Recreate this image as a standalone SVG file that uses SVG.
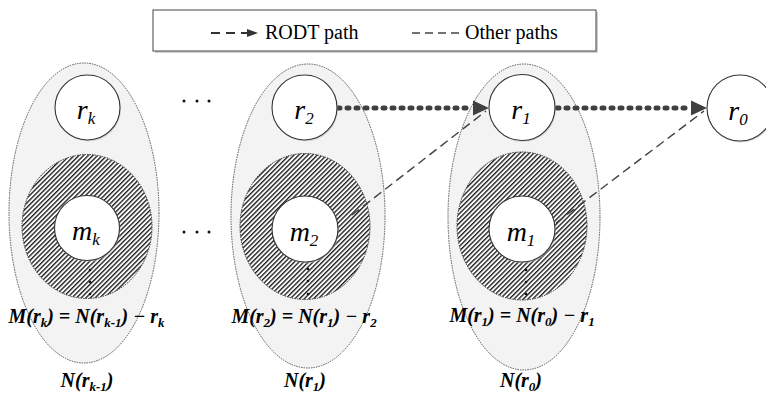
<svg xmlns="http://www.w3.org/2000/svg" width="766" height="396" viewBox="0 0 766 396">
<rect width="766" height="396" fill="#fff"/>
<defs>
<pattern id="hp" patternUnits="userSpaceOnUse" width="3.3" height="3.3" patternTransform="rotate(45)">
<rect width="3.3" height="3.3" fill="#fff"/>
<line x1="0.7" y1="0" x2="0.7" y2="3.3" stroke="#222" stroke-width="1.4"/>
</pattern>
</defs>

<g id="legend">
<rect x="155" y="12" width="443" height="41" fill="#d0d0d0"/>
<rect x="153" y="10" width="443" height="41" fill="#fff" stroke="#444" stroke-width="1"/>
<line x1="211" y1="33" x2="247" y2="33" stroke="#333" stroke-width="2" stroke-dasharray="9 6"/>
<polygon points="247,29 258,33 247,37" fill="#333"/>
<text x="265" y="39" font-family="Liberation Serif" font-size="20">RODT path</text>
<line x1="412" y1="33" x2="462" y2="33" stroke="#444" stroke-width="1.4" stroke-dasharray="8 5"/>
<text x="465" y="39" font-family="Liberation Serif" font-size="20">Other paths</text>
</g>

<g id="sets" fill="#f3f3f3" stroke="#555" stroke-width="1" stroke-dasharray="1.5 1">
<ellipse id="set-N-rk-1" cx="84" cy="213" rx="75" ry="150"/>
<ellipse id="set-N-r1" cx="308" cy="216" rx="77" ry="152"/>
<ellipse id="set-N-r0" cx="524" cy="217" rx="76" ry="153"/>
</g>
<g id="hatched" fill="url(#hp)" stroke="#333" stroke-width="1" stroke-dasharray="1.5 1">
<ellipse id="set-M-rk" cx="87" cy="226.5" rx="65" ry="72"/>
<ellipse id="set-M-r2" cx="305" cy="226.5" rx="65" ry="73"/>
<ellipse id="set-M-r1" cx="522" cy="226" rx="65" ry="74"/>
</g>

<g id="labels">
<text x="87" y="387" font-family="Liberation Serif" font-style="italic" font-weight="bold" font-size="20" text-anchor="middle">N(r<tspan font-size="13" dy="4">k-1</tspan><tspan dy="-4">)</tspan></text>
<text x="305" y="387" font-family="Liberation Serif" font-style="italic" font-weight="bold" font-size="20" text-anchor="middle">N(r<tspan font-size="13" dy="4">1</tspan><tspan dy="-4">)</tspan></text>
<text x="521" y="387" font-family="Liberation Serif" font-style="italic" font-weight="bold" font-size="20" text-anchor="middle">N(r<tspan font-size="13" dy="4">0</tspan><tspan dy="-4">)</tspan></text>
<text x="86.5" y="323" font-family="Liberation Serif" font-style="italic" font-weight="bold" font-size="20" text-anchor="middle">M(r<tspan font-size="13" dy="4">k</tspan><tspan dy="-4">) = N(r</tspan><tspan font-size="13" dy="4">k-1</tspan><tspan dy="-4">)  − r</tspan><tspan font-size="13" dy="4">k</tspan></text>
<text x="304" y="323" font-family="Liberation Serif" font-style="italic" font-weight="bold" font-size="20" text-anchor="middle">M(r<tspan font-size="13" dy="4">2</tspan><tspan dy="-4">) = N(r</tspan><tspan font-size="13" dy="4">1</tspan><tspan dy="-4">)  − r</tspan><tspan font-size="13" dy="4">2</tspan></text>
<text x="522" y="322" font-family="Liberation Serif" font-style="italic" font-weight="bold" font-size="20" text-anchor="middle">M(r<tspan font-size="13" dy="4">1</tspan><tspan dy="-4">) = N(r</tspan><tspan font-size="13" dy="4">0</tspan><tspan dy="-4">)  − r</tspan><tspan font-size="13" dy="4">1</tspan></text>
</g>

<g id="dots" fill="#111">
<circle cx="90" cy="270" r="1.3"/><circle cx="90" cy="282" r="1.3"/><circle cx="90" cy="294" r="1.3"/>
<circle cx="308" cy="269" r="1.3"/><circle cx="308" cy="281" r="1.3"/><circle cx="308" cy="294" r="1.3"/>
<circle cx="526" cy="270" r="1.3"/><circle cx="526" cy="282" r="1.3"/><circle cx="526" cy="294" r="1.3"/>
<circle cx="184" cy="101" r="1.5"/><circle cx="197" cy="101" r="1.5"/><circle cx="209" cy="101" r="1.5"/>
<circle cx="184" cy="232" r="1.5"/><circle cx="197" cy="232" r="1.5"/><circle cx="209" cy="232" r="1.5"/>
</g>

<g id="connectors" fill="none" stroke="#404040">
<line x1="352" y1="215" x2="486" y2="111" stroke-width="1.4" stroke-dasharray="9 5"/>
<line x1="556" y1="223" x2="704" y2="111" stroke-width="1.4" stroke-dasharray="9 5"/>
<line x1="338" y1="108" x2="471" y2="108" stroke-width="5" stroke-linecap="round" stroke-dasharray="2 7"/>
<polygon points="473,100.5 489,108 473,115.5" fill="#404040" stroke="none"/>
<line x1="557" y1="108" x2="689" y2="108" stroke-width="5" stroke-linecap="round" stroke-dasharray="2 7"/>
<polygon points="691,100.5 707,108 691,115.5" fill="#404040" stroke="none"/>
</g>

<g id="node-rk">
<circle cx="88.5" cy="109" r="32.5" fill="#bbb" opacity="0.5"/>
<circle cx="87.5" cy="107.5" r="32.5" fill="#fff" stroke="#333" stroke-width="1.1"/>
<text x="86" y="119" font-family="Liberation Serif" font-style="italic" font-size="28" text-anchor="middle">r<tspan font-size="17" dy="5">k</tspan></text>
</g>
<g id="node-mk">
<circle cx="88" cy="229.5" r="32.5" fill="#bbb" opacity="0.5"/>
<circle cx="87" cy="228" r="32.5" fill="#fff" stroke="#333" stroke-width="1.1"/>
<text x="86" y="240" font-family="Liberation Serif" font-style="italic" font-size="28" text-anchor="middle">m<tspan font-size="17" dy="5">k</tspan></text>
</g>
<g id="node-r2">
<circle cx="305.5" cy="109" r="32.5" fill="#bbb" opacity="0.5"/>
<circle cx="304.5" cy="107.5" r="32.5" fill="#fff" stroke="#333" stroke-width="1.1"/>
<text x="304" y="119" font-family="Liberation Serif" font-style="italic" font-size="28" text-anchor="middle">r<tspan font-size="17" dy="5">2</tspan></text>
</g>
<g id="node-m2">
<circle cx="306" cy="230.5" r="33" fill="#bbb" opacity="0.5"/>
<circle cx="305" cy="229" r="33" fill="#fff" stroke="#333" stroke-width="1.1"/>
<text x="304" y="241" font-family="Liberation Serif" font-style="italic" font-size="28" text-anchor="middle">m<tspan font-size="17" dy="5">2</tspan></text>
</g>
<g id="node-r1">
<circle cx="523" cy="109" r="33" fill="#bbb" opacity="0.5"/>
<circle cx="522" cy="107.5" r="33" fill="#fff" stroke="#333" stroke-width="1.1"/>
<text x="521" y="119" font-family="Liberation Serif" font-style="italic" font-size="28" text-anchor="middle">r<tspan font-size="17" dy="5">1</tspan></text>
</g>
<g id="node-m1">
<circle cx="523" cy="230.5" r="33" fill="#bbb" opacity="0.5"/>
<circle cx="522" cy="229" r="33" fill="#fff" stroke="#333" stroke-width="1.1"/>
<text x="521" y="241" font-family="Liberation Serif" font-style="italic" font-size="28" text-anchor="middle">m<tspan font-size="17" dy="5">1</tspan></text>
</g>
<g id="node-r0">
<circle cx="741" cy="109.5" r="33" fill="#bbb" opacity="0.5"/>
<circle cx="740" cy="108" r="33" fill="#fff" stroke="#333" stroke-width="1.1"/>
<text x="738" y="120" font-family="Liberation Serif" font-style="italic" font-size="28" text-anchor="middle">r<tspan font-size="17" dy="5">0</tspan></text>
</g>
</svg>
